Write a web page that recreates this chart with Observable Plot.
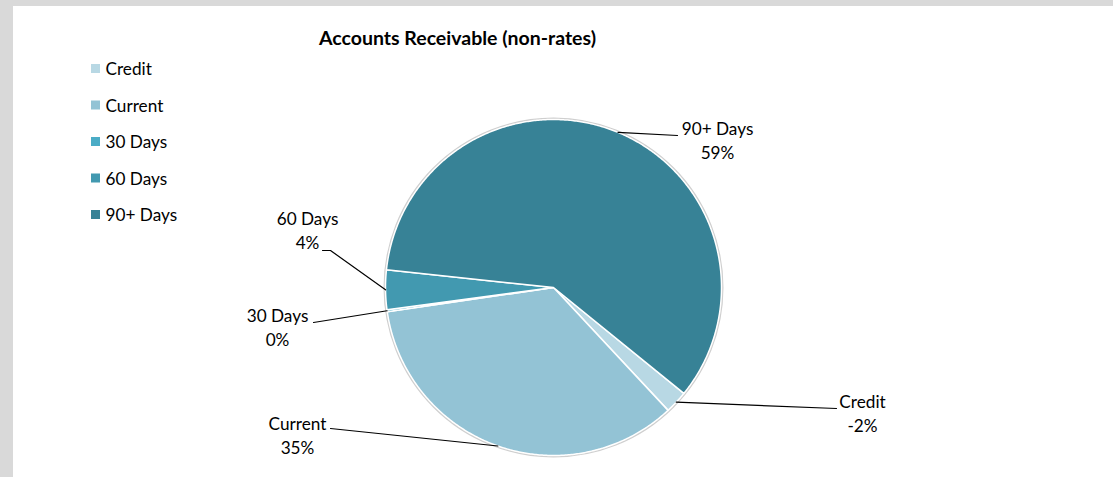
<!DOCTYPE html>
<html>
<head>
<meta charset="utf-8">
<script src="https://cdn.jsdelivr.net/npm/d3@7"></script>
<script src="https://cdn.jsdelivr.net/npm/@observablehq/plot@0.6"></script>
<style>
  html, body { margin: 0; padding: 0; background: #fff; }
  #frame { position: relative; width: 1113px; height: 477px; background: #d9d9d9; overflow: hidden; }
  #panel { position: absolute; left: 13px; top: 6px; width: 1100px; height: 471px; background: #fff; }
  #chart { position: absolute; left: 0; top: 0; }
</style>
</head>
<body>
<div id="frame"><div id="panel"></div><div id="chart"></div></div>
<script>
// ---- data ----
const title = "Accounts Receivable (non-rates)";
const categories = ["Credit", "Current", "30 Days", "60 Days", "90+ Days"];
const values = [-2.2, 34.7, 0.2, 3.8, 59.3];   // share of receivables (%)
const colors = ["#b8d8e4", "#93c3d5", "#4bacc6", "#4299b0", "#378296"];

// ---- layout ----
const W = 1113, H = 477;
const cx = 553, cy = 287, R = 168;
const startDeg = 129.1;
// label placement relative to pie centre (px): text centre, first-line y, leader path after arc point
const labelLayout = {
  "Credit":   {tx: 309, ty: 115, leader: [[283, 121]]},
  "Current":  {tx: -256, ty: 137, leader: [[-223, 141]]},
  "30 Days":  {tx: -276, ty: 29, leader: [[-240, 35]]},
  "60 Days":  {tx: -246, ty: -68, leader: [[-223, -37], [-231, -37]]},
  "90+ Days": {tx: 164, ty: -158, leader: [[124, -152]]}
};
const font = "Lato, 'Open Sans', sans-serif";

// ---- derived ----
const sumAbs = d3.sum(values, Math.abs);
const table = categories.map((c, i) => ({cat: c, value: values[i], pct: Math.round(values[i] / sumAbs * 100) + "%"}));
const arcs = d3.pie().sort(null).value(d => Math.abs(d.value))
  .startAngle(startDeg * Math.PI / 180).endAngle(startDeg * Math.PI / 180 + 2 * Math.PI)(table);

const polar = (a, r) => ({x: cx + r * Math.sin(a), y: cy - r * Math.cos(a)});
const slicePts = [];
for (const a of arcs) {
  slicePts.push({cat: a.data.cat, ...polar(0, 0)});
  const n = Math.max(2, Math.ceil((a.endAngle - a.startAngle) / (Math.PI / 360)));
  for (let k = 0; k <= n; k++) {
    const t = a.startAngle + (a.endAngle - a.startAngle) * k / n;
    slicePts.push({cat: a.data.cat, ...polar(t, R)});
  }
}
const leaderPts = [];
const labels = [];
for (const a of arcs) {
  const L = labelLayout[a.data.cat];
  const mid = (a.startAngle + a.endAngle) / 2;
  leaderPts.push({cat: a.data.cat, ...polar(mid, R)});
  for (const [dx, dy] of L.leader) leaderPts.push({cat: a.data.cat, x: cx + dx, y: cy + dy});
  labels.push({x: cx + L.tx, y: cy + L.ty, text: a.data.cat});
  labels.push({x: cx + L.tx, y: cy + L.ty + 24, text: a.data.pct});
}

const chart = Plot.plot({
  width: W, height: H, margin: 0,
  x: {domain: [0, W], range: [0, W], axis: null},
  y: {domain: [0, H], range: [0, H], axis: null},
  color: {domain: categories, range: colors},
  style: {background: "transparent", fontFamily: font},
  marks: [
    // title
    Plot.text([title], {x: () => 457, y: () => 38, text: d => d, fontSize: 19.5, fontWeight: "bold", fill: "#000"}),
    // legend
    Plot.rect(categories, {x1: () => 91, x2: () => 100, y1: (d, i) => 64 + i * 36.5, y2: (d, i) => 73 + i * 36.5, fill: d => d}),
    Plot.text(categories, {x: () => 105, y: (d, i) => 69 + i * 36.5, text: d => d, textAnchor: "start", fontSize: 17.2, fill: "#000"}),
    // pie shadow edge
    Plot.dot([0], {x: () => cx, y: () => cy, r: R + 1, fill: "none", stroke: "#cfcfcf", strokeWidth: 2}),
    // slices
    Plot.line(slicePts, {x: "x", y: "y", z: "cat", fill: "cat", stroke: "white", strokeWidth: 1.5, curve: "linear-closed"}),
    // leader lines
    Plot.line(leaderPts, {x: "x", y: "y", z: "cat", stroke: "#000", strokeWidth: 1.2}),
    // data labels
    Plot.text(labels, {x: "x", y: "y", text: "text", fontSize: 17.2, fill: "#000"})
  ]
});
document.getElementById("chart").appendChild(chart);
</script>
</body>
</html>
